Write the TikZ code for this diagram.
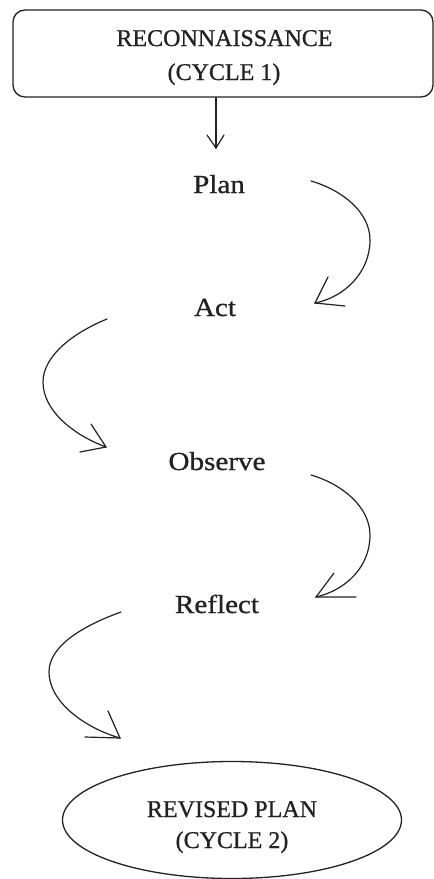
\documentclass[tikz,border=0pt]{standalone}
\usepackage{fontspec}
\setmainfont{Liberation Serif}[FakeBold=0.8]
\newfontfamily\lowfont[FakeStretch=1.12,FakeBold=0.8]{Liberation Serif}
\usetikzlibrary{shapes.geometric}
\definecolor{ink}{HTML}{222222}
\tikzset{
  capstext/.style={inner sep=0pt, text=ink, font=\fontsize{24}{28}\selectfont},
  steptext/.style={inner sep=0pt, text=ink, font=\lowfont\fontsize{26}{30}\selectfont},
  frame/.style={draw=ink, line width=1.3pt},
  curve/.style={draw=ink, line width=1.2pt, line cap=round},
}
\begin{document}
\begin{tikzpicture}[x=1pt,y=-1pt]
\useasboundingbox (0,0) rectangle (434,879);
\fill[white] (0,0) rectangle (434,879);

% top box
\node[frame, rounded corners=12pt, minimum width=420pt, minimum height=87pt, inner sep=0pt] (recon) at (223,53.5) {};
\node[capstext, anchor=base] (reconA) at (224.5,46) {RECONNAISSANCE};
\node[capstext, anchor=base] (reconB) at (224,80) {(CYCLE 1)};

% steps
\node[steptext, anchor=base] (plan) at (219,193) {Plan};
\node[steptext, anchor=base] (act) at (215,316) {Act};
\node[steptext, anchor=base] (observe) at (217,470) {Observe};
\node[steptext, anchor=base] (reflect) at (217,613) {Reflect};

% bottom ellipse
\node[frame, ellipse, minimum width=339pt, minimum height=117pt, inner sep=0pt] (revised) at (232,820) {};
\node[capstext, anchor=base] (revA) at (232,817) {REVISED PLAN};
\node[capstext, anchor=base] (revB) at (232,848) {(CYCLE 2)};

% arrow from box
\coordinate (t0) at (216,148);
\coordinate (t0a) at (207,135);
\coordinate (t0b) at (224,135);
\draw[curve] (recon.south -| t0) -- (t0);
\draw[curve] (t0a) -- (t0) -- (t0b);

% curve 1: Plan -> Act
\coordinate (s1) at (311,181);
\coordinate (m1) at (370,240);
\coordinate (t1) at (315,303);
\coordinate (t1a) at (345,306);
\coordinate (t1b) at (328,277);
\draw[curve] (s1) .. controls (342,190) and (370,212) .. (m1)
  .. controls (370,272) and (345,297) .. (t1);
\draw[curve] (t1b) -- (t1) -- (t1a);

% curve 2: Act -> Observe
\coordinate (s2) at (107,319);
\coordinate (m2) at (43,382);
\coordinate (t2) at (106,447);
\coordinate (t2a) at (80,452);
\coordinate (t2b) at (91,424);
\draw[curve] (s2) .. controls (75,332) and (43,355) .. (m2)
  .. controls (43,412) and (76,436) .. (t2);
\draw[curve] (t2b) -- (t2) -- (t2a);

% curve 3: Observe -> Reflect
\coordinate (s3) at (311,475);
\coordinate (m3) at (370,535);
\coordinate (t3) at (316,597);
\coordinate (t3a) at (356,597);
\coordinate (t3b) at (334,573);
\draw[curve] (s3) .. controls (342,484) and (370,507) .. (m3)
  .. controls (370,567) and (346,590) .. (t3);
\draw[curve] (t3b) -- (t3) -- (t3a);

% curve 4: Reflect -> Revised plan
\coordinate (s4) at (121,612);
\coordinate (m4) at (49,672);
\coordinate (t4) at (120,738);
\coordinate (t4a) at (85,737);
\coordinate (t4b) at (108,711);
\draw[curve] (s4) .. controls (85,625) and (49,645) .. (m4)
  .. controls (49,702) and (85,728) .. (t4);
\draw[curve] (t4b) -- (t4) -- (t4a);
\end{tikzpicture}
\end{document}
